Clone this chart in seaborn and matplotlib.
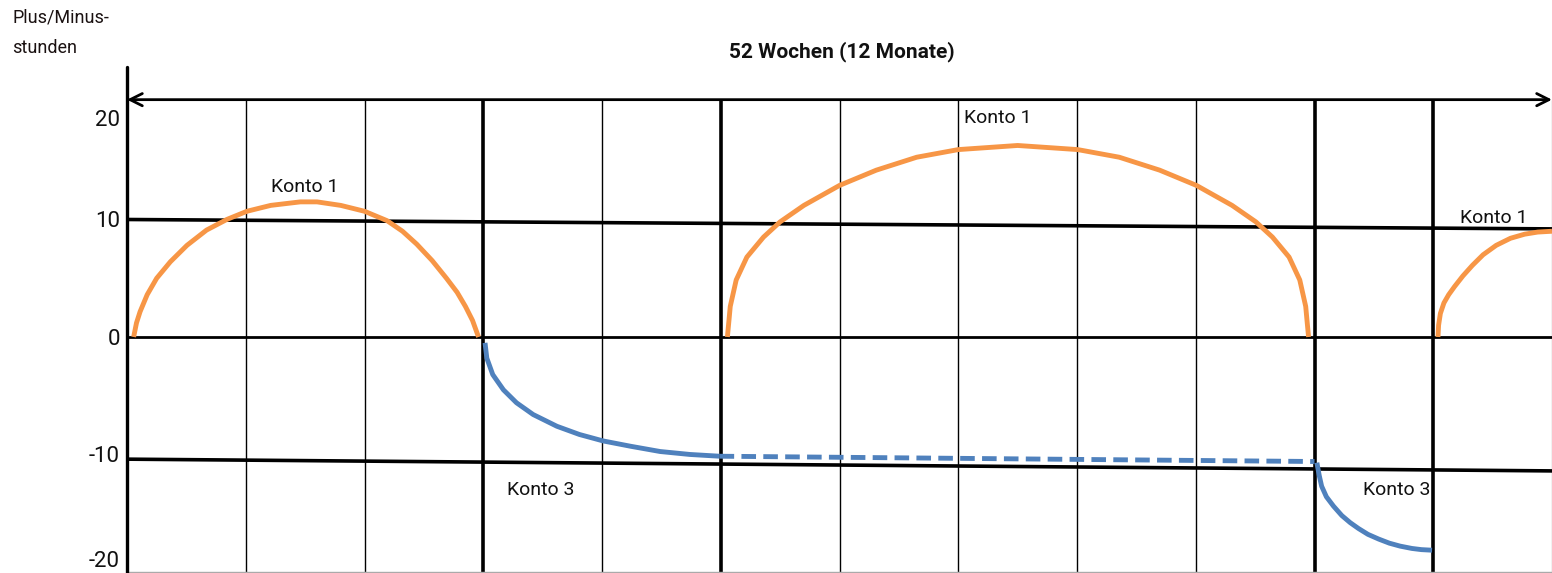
"""Plus/Minus-Stunden über 52 Wochen -- Arbeitszeitkonto-Skizze."""

import matplotlib
matplotlib.use("Agg")

import matplotlib.pyplot as plt
import matplotlib.transforms as mtransforms
import pandas as pd
import seaborn as sns

ORANGE = "#F79646"
BLUE = "#4F81BD"

MONTHS = list(range(1, 12))
THICK_MONTHS = [3, 5, 10, 11]
YTICKS = [20, 10, 0, -10, -20]
YLABELS = ["20", "10", "0", "-10", "-20"]

# Konto 1 (Plusstunden)
ARC1_X = [0.056, 0.08, 0.11, 0.17, 0.25, 0.365, 0.505, 0.67, 0.84, 1.01, 1.21, 1.46,
          1.6, 1.8, 2.0, 2.19, 2.32, 2.44, 2.57, 2.69, 2.78, 2.85, 2.91, 2.96]
ARC1_Y = [0.0, 1.2, 2.15, 3.6, 5.0, 6.4, 7.8, 9.1, 10.0, 10.7, 11.2, 11.5,
          11.5, 11.2, 10.7, 9.9, 9.0, 7.9, 6.5, 5.0, 3.8, 2.6, 1.4, 0.0]
ARC2_X = [5.056, 5.07, 5.08, 5.13, 5.22, 5.36, 5.5, 5.7, 6.0, 6.31, 6.65, 7.0, 7.5,
          8.006, 8.356, 8.696, 9.006, 9.306, 9.506, 9.646, 9.786, 9.876, 9.926, 9.936, 9.95]
ARC2_Y = [0.0, 1.5, 2.6, 4.85, 6.8, 8.5, 9.8, 11.2, 12.9, 14.2, 15.3, 15.95, 16.3,
          15.95, 15.3, 14.2, 12.9, 11.2, 9.8, 8.5, 6.8, 4.85, 2.6, 1.5, 0.0]
ARC3_X = [11.04, 11.045, 11.06, 11.09, 11.13, 11.18, 11.25, 11.33, 11.42, 11.53, 11.65,
          11.77, 11.88, 12.0]
ARC3_Y = [0.0, 1.0, 2.0, 2.9, 3.6, 4.3, 5.2, 6.1, 7.0, 7.8, 8.4, 8.75, 8.93, 9.0]

# Konto 3 (Minusstunden)
DIP1_X = [3.015, 3.03, 3.08, 3.17, 3.28, 3.42, 3.62, 3.81, 4.01, 4.24, 4.49, 4.74, 4.99]
DIP1_Y = [-0.5, -1.8, -3.2, -4.5, -5.6, -6.6, -7.6, -8.3, -8.85, -9.3, -9.75, -10.0, -10.15]
DASH_X = [4.99, 10.0]
DASH_Y = [-10.15, -10.6]
DIP2_X = [10.02, 10.04, 10.06, 10.1, 10.16, 10.23, 10.3, 10.37, 10.45, 10.54, 10.63, 10.72,
          10.82, 10.9, 10.99]
DIP2_Y = [-10.7, -11.8, -12.7, -13.6, -14.4, -15.2, -15.8, -16.3, -16.8, -17.2, -17.55, -17.8,
          -18.0, -18.1, -18.15]

# hand-drawn guide lines at +10 / -10 (slightly tilted)
GUIDE_X = [0, 12]
GUIDE_PLUS_Y = [10.0, 9.2]
GUIDE_MINUS_Y = [-10.4, -11.4]

LABEL_TEXT = ["Konto 1", "Konto 1", "Konto 1", "Konto 3", "Konto 3"]
LABEL_X = [1.5, 7.33, 11.51, 3.48, 10.69]
LABEL_Y = [12.8, 18.6, 10.1, -13.0, -13.0]


def curve(ax, xs, ys, color, **kwargs):
  data = pd.DataFrame({"x": xs, "y": ys})
  sns.lineplot(data = data, x = "x", y = "y", ax = ax, color = color, sort = False,
               linewidth = 3.5, solid_capstyle = "butt", solid_joinstyle = "round",
               zorder = 5, **kwargs)


def main():
  sns.set_style("white")
  plt.rcParams["font.family"] = ["Roboto", "DejaVu Sans"]

  fig = plt.figure(figsize = (15.52, 5.73), dpi = 100)
  ax = fig.add_axes([127 / 1552, 0.0, 1425 / 1552, 506 / 573])
  ax.set_xlim(0, 12)
  ax.set_ylim(-20.09, 22.98)
  for spine in ax.spines.values() :
    spine.set_visible(False)

  # month grid
  for month in MONTHS :
    thick = month in THICK_MONTHS
    ax.vlines(month, -20.09, 20.2, color = "black", linewidth = 2.6 if thick else 1.0, zorder = 2)
  ax.vlines(12, -20.09, 20.2, color = "#BBBBBB", linewidth = 1.0, zorder = 2)
  ax.axvline(0, color = "black", linewidth = 2.4, clip_on = False, zorder = 3)

  # horizontal guides
  ax.plot([0, 12], [0, 0], color = "black", linewidth = 2.0, zorder = 3)
  ax.plot(GUIDE_X, GUIDE_PLUS_Y, color = "black", linewidth = 2.6, zorder = 3)
  ax.plot(GUIDE_X, GUIDE_MINUS_Y, color = "black", linewidth = 2.6, zorder = 3)
  ax.plot([0, 12], [-20, -20], color = "#AAAAAA", linewidth = 1.0, zorder = 2)

  # 52 weeks arrow
  ax.annotate("", xy = (12, 20.2), xytext = (0, 20.2), annotation_clip = False,
              arrowprops = dict(arrowstyle = "<->", color = "black", lw = 2.0,
                                mutation_scale = 22, shrinkA = 0, shrinkB = 0))

  curve(ax, ARC1_X, ARC1_Y, ORANGE)
  curve(ax, ARC2_X, ARC2_Y, ORANGE)
  curve(ax, ARC3_X, ARC3_Y, ORANGE)
  curve(ax, DIP1_X, DIP1_Y, BLUE)
  curve(ax, DASH_X, DASH_Y, BLUE, linestyle = (0, (3.0, 1.5)))
  curve(ax, DIP2_X, DIP2_Y, BLUE)

  for text, x, y in zip(LABEL_TEXT, LABEL_X, LABEL_Y) :
    ax.text(x, y, text, ha = "center", va = "center", fontsize = 14, color = "#111111", zorder = 6)

  ax.set_xticks([])
  ax.set_yticks(YTICKS)
  ax.set_yticklabels(YLABELS, fontsize = 16, color = "#111111")
  ax.tick_params(axis = "y", length = 0, pad = 5)
  ticklabels = ax.get_yticklabels()
  ticklabels[0].set_va("top")
  ticklabels[0].set_transform(ticklabels[0].get_transform()
                              + mtransforms.ScaledTranslation(0, -8 / 100, fig.dpi_scale_trans))
  ticklabels[-1].set_va("bottom")
  ax.set_xlabel("")
  ax.set_ylabel("")

  fig.text(842 / 1552, 1 - 52 / 573, "52 Wochen (12 Monate)", ha = "center", va = "center",
           fontsize = 15, fontweight = "bold", color = "#111111")
  fig.text(12 / 1552, 1 - 18 / 573, "Plus/Minus-", ha = "left", va = "center", fontsize = 13, color = "#1a1111")
  fig.text(12 / 1552, 1 - 48 / 573, "stunden", ha = "left", va = "center", fontsize = 13, color = "#1a1111")

  fig.savefig("out.png", dpi = 100, facecolor = "white")
  plt.close(fig)


if __name__ == "__main__" :
  main()
